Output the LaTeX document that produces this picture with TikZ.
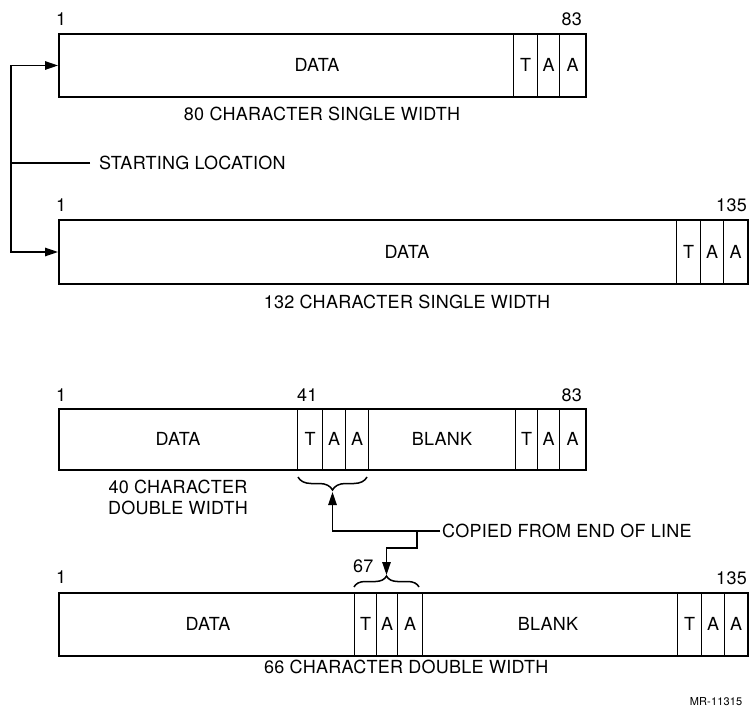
\documentclass[tikz,border=0pt]{standalone}
\usepackage{fontspec}
\setmainfont[LetterSpace=1.5]{TeX Gyre Heros}
\usetikzlibrary{decorations.pathreplacing,arrows.meta}
\begin{document}
\begin{tikzpicture}[x=1pt,y=-1pt,
  font=\fontsize{18}{21}\selectfont,
  box/.style={draw, line width=2pt, inner sep=0, anchor=north west},
  cell/.style={draw, line width=1.2pt, inner sep=0, anchor=north west},
  lbl/.style={inner sep=0},
  conn/.style={line width=1.3pt},
  arr/.style={conn, -{Triangle[length=13pt,width=8.5pt]}},
  brc/.style={line width=1.5pt, decorate, decoration={brace, amplitude=#1}},
]
\useasboundingbox (0,0) rectangle (749,708);

% ---------- Box 1 : 80 character single width ----------
\node[cell, minimum width=24pt, minimum height=63pt] (c1t) at (513,33) {T};
\node[cell, minimum width=22pt, minimum height=63pt] (c1a) at (537,33) {A};
\node[cell, minimum width=26pt, minimum height=63pt] (c1b) at (559,33) {A};
\node[box, minimum width=527pt, minimum height=63pt] (b1) at (58,33) {};
\node[lbl] (b1d) at (317,65) {DATA};
\node[lbl, anchor=base west] (b1s) at (56,26) {1};
\node[lbl, anchor=base east] (b1e) at (582,26) {83};
\node[lbl] (b1n) at (322,114) {80 CHARACTER SINGLE WIDTH};

% ---------- Box 2 : 132 character single width ----------
\node[cell, minimum width=24pt, minimum height=64pt] (c2t) at (676,219) {T};
\node[cell, minimum width=23pt, minimum height=64pt] (c2a) at (700,219) {A};
\node[cell, minimum width=24pt, minimum height=64pt] (c2b) at (723,219) {A};
\node[box, minimum width=689pt, minimum height=64pt] (b2) at (58,219) {};
\node[lbl] (b2d) at (407,252) {DATA};
\node[lbl, anchor=base west] (b2s) at (56,212) {1};
\node[lbl, anchor=base east] (b2e) at (747,212) {135};
\node[lbl] (b2n) at (407,302) {132 CHARACTER SINGLE WIDTH};

% starting location connector
\node[lbl, anchor=west] (sl) at (99,163) {STARTING LOCATION};
\coordinate (sj) at (11,163);
\draw[conn] ([xshift=-9pt]sl.west) -- (sj);
\draw[arr] (sj) |- (b1.west);
\draw[arr] (sj) |- (b2.west);

% ---------- Box 3 : 40 character double width ----------
\node[cell, minimum width=25pt, minimum height=61pt] (c3t) at (297,408) {T};
\node[cell, minimum width=23pt, minimum height=61pt] (c3a) at (322,408) {A};
\node[cell, minimum width=23pt, minimum height=61pt] (c3b) at (345,408) {A};
\node[cell, minimum width=22pt, minimum height=61pt] (c3u) at (515,408) {T};
\node[cell, minimum width=22pt, minimum height=61pt] (c3v) at (537,408) {A};
\node[cell, minimum width=26pt, minimum height=61pt] (c3w) at (559,408) {A};
\node[box, minimum width=527pt, minimum height=61pt] (b3) at (58,408) {};
\node[lbl] (b3d) at (178,439) {DATA};
\node[lbl] (b3k) at (442,439) {BLANK};
\node[lbl, anchor=base west] (b3s) at (56,401) {1};
\node[lbl, anchor=base west] (b3m) at (297,401) {41};
\node[lbl, anchor=base east] (b3e) at (582,401) {83};
\node[lbl, align=center] (b3n) at (178,497) {40 CHARACTER\\DOUBLE WIDTH};

% ---------- Box 4 : 66 character double width ----------
\node[cell, minimum width=22pt, minimum height=63pt] (c4t) at (354,592) {T};
\node[cell, minimum width=21pt, minimum height=63pt] (c4a) at (376,592) {A};
\node[cell, minimum width=25pt, minimum height=63pt] (c4b) at (397,592) {A};
\node[cell, minimum width=24pt, minimum height=63pt] (c4u) at (677,592) {T};
\node[cell, minimum width=23pt, minimum height=63pt] (c4v) at (701,592) {A};
\node[cell, minimum width=23pt, minimum height=63pt] (c4w) at (724,592) {A};
\node[box, minimum width=689pt, minimum height=63pt] (b4) at (58,592) {};
\node[lbl] (b4d) at (208,624) {DATA};
\node[lbl] (b4k) at (548,624) {BLANK};
\node[lbl, anchor=base west] (b4s) at (56,583) {1};
\node[lbl, anchor=base west] (b4m) at (353,572) {67};
\node[lbl, anchor=base east] (b4e) at (747,584) {135};
\node[lbl, anchor=west] (b4n) at (264,667) {66 CHARACTER DOUBLE WIDTH};

% braces
\coordinate (tbl) at (298,477);
\coordinate (tbr) at (367,477);
\draw[brc=13pt] (tbr) -- (tbl);
\coordinate (tb) at (332.5,492);
\coordinate (bbl) at (354,587);
\coordinate (bbr) at (419,587);
\draw[brc=11pt] (bbl) -- (bbr);
\coordinate (bb) at (386.5,575);

% copied-from connector
\node[lbl, anchor=west] (cp) at (442,531) {COPIED FROM END OF LINE};
\coordinate (cj) at (417,531);
\draw[arr] ([xshift=-2pt]cp.west) -| (tb);
\draw[arr] (cj) -- ++(0,17) -| (bb);

\node[lbl, font=\fontsize{11}{13}\selectfont] (mr) at (716,702) {MR-11315};
\end{tikzpicture}
\end{document}
